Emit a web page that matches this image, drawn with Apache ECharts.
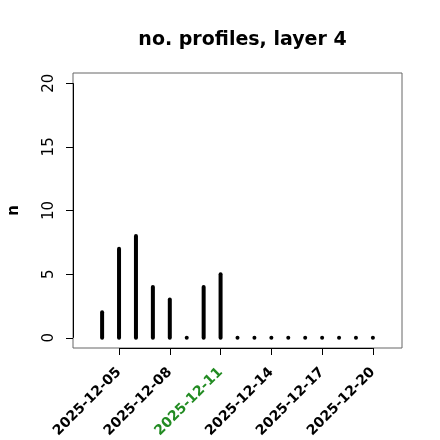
<!DOCTYPE html>
<html>
<head>
<meta charset="utf-8">
<script src="https://cdn.jsdelivr.net/npm/echarts@6/dist/echarts.min.js"></script>
<style>
  html, body { margin: 0; padding: 0; background: #fff; }
  #chart { width: 440px; height: 440px; }
</style>
</head>
<body>
<div id="chart"></div>
<script>
// daily profile counts, layer 4
const dates = [
  '2025-12-04', '2025-12-05', '2025-12-06', '2025-12-07', '2025-12-08',
  '2025-12-09', '2025-12-10', '2025-12-11', '2025-12-12', '2025-12-13',
  '2025-12-14', '2025-12-15', '2025-12-16', '2025-12-17', '2025-12-18',
  '2025-12-19', '2025-12-20',
]
const counts = [2, 7, 8, 4, 3, 0, 4, 5, 0, 0, 0, 0, 0, 0, 0, 0, 0]
const xTickLabels = ['2025-12-05', '2025-12-08', '2025-12-11', '2025-12-14', '2025-12-17', '2025-12-20']
const highlightDate = '2025-12-11'
const yTicks = [0, 5, 10, 15, 20]
// xlim 2025-12-03 .. 2025-12-21, ylim 0 .. 20 (plus 4% padding like R)
const xLimits = ['2025-12-03', '2025-12-21']
const yLimits = [0, 20]

const DAY = 86400000
const t0 = Date.parse(dates[0])
const dayOf = (d) => (Date.parse(d) - t0) / DAY
const dateOf = (n) => new Date(t0 + Math.round(n) * DAY).toISOString().slice(0, 10)

const xl0 = dayOf(xLimits[0])
const xl1 = dayOf(xLimits[1])
const xPad = (xl1 - xl0) * 0.04
const yPad = (yLimits[1] - yLimits[0]) * 0.04
const xMin = xl0 - xPad
const xMax = xl1 + xPad
const yMin = yLimits[0] - yPad
const yMax = yLimits[1] + yPad

const xTickValues = xTickLabels.map(dayOf)
const points = dates.map((d, i) => [dayOf(d), counts[i]])

const chart = echarts.init(document.getElementById('chart'))

const font = 'DejaVu Sans'

chart.setOption({
  animation: false,
  title: {
    text: 'no. profiles, layer 4',
    left: 237.5,
    top: 26,
    textAlign: 'center',
    textStyle: { fontFamily: font, fontSize: 19, fontWeight: 'bold', color: '#000' },
  },
  grid: {
    left: 73,
    top: 73,
    right: 38,
    bottom: 92,
    outerBoundsMode: 'none',
    show: true,
    borderColor: '#666',
    borderWidth: 1,
  },
  xAxis: {
    type: 'value',
    min: xMin,
    max: xMax,
    splitLine: { show: false },
    axisLine: { show: false, onZero: false },
    axisTick: {
      show: true,
      length: 7,
      customValues: xTickValues,
      lineStyle: { color: '#000', width: 1 },
    },
    axisLabel: {
      customValues: xTickValues,
      rotate: 45,
      margin: 22,
      overflow: 'none',
      hideOverlap: false,
      fontFamily: font,
      fontSize: 14,
      fontWeight: 'bold',
      formatter: (v) => dateOf(v),
      color: (v) => (dateOf(v) === highlightDate ? '#228b22' : '#000'),
    },
  },
  yAxis: {
    type: 'value',
    min: yMin,
    max: yMax,
    name: 'n',
    nameLocation: 'middle',
    nameRotate: 90,
    nameGap: 51,
    nameTextStyle: { fontFamily: font, fontSize: 15, fontWeight: 'bold', color: '#000' },
    splitLine: { show: false },
    axisLine: { show: false, onZero: false },
    axisTick: {
      show: true,
      length: 7,
      customValues: yTicks,
      lineStyle: { color: '#000', width: 1 },
    },
    axisLabel: {
      customValues: yTicks,
      rotate: 90,
      margin: 16,
      align: 'center',
      verticalAlign: 'bottom',
      overflow: 'none',
      fontFamily: font,
      fontSize: 15,
      color: '#000',
    },
  },
  series: [
    {
      type: 'custom',
      data: points,
      clip: false,
      renderItem(params, api) {
        const x = api.value(0)
        const v = api.value(1)
        const p0 = api.coord([x, 0])
        const p1 = api.coord([x, v])
        if (v === 0) {
          return {
            type: 'circle',
            shape: { cx: p0[0], cy: p0[1], r: 2 },
            style: { fill: '#000' },
          }
        }
        return {
          type: 'line',
          shape: { x1: p0[0], y1: p0[1], x2: p1[0], y2: p1[1] },
          style: { stroke: '#000', lineWidth: 4, lineCap: 'round' },
        }
      },
      markLine: {
        silent: true,
        symbol: 'none',
        label: { show: false },
        lineStyle: { color: '#000', width: 1, type: 'solid' },
        data: [
          [{ coord: [xTickValues[0], yMin] }, { coord: [xTickValues[xTickValues.length - 1], yMin] }],
          [{ coord: [xMin, yTicks[0]] }, { coord: [xMin, yTicks[yTicks.length - 1]] }],
        ],
      },
    },
  ],
})
</script>
</body>
</html>
